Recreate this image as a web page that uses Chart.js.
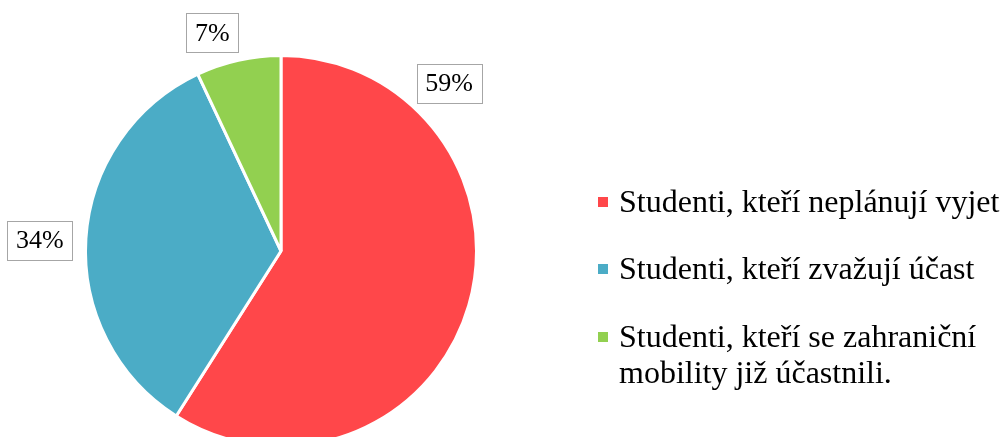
<!DOCTYPE html>
<html>
<head>
<meta charset="utf-8">
<script src="https://cdn.jsdelivr.net/npm/chart.js@4"></script>
<style>
  html, body { margin: 0; padding: 0; background: #fff; }
  #wrap { width: 1004px; height: 437px; overflow: hidden; position: relative; }
  #pie { position: absolute; left: 0; top: 0; }
</style>
</head>
<body>
<div id="wrap">
  <canvas id="pie" width="1004" height="470"></canvas>
</div>
<script>
// Data
const labels = [
    "Studenti, kteří neplánují vyjet",
    "Studenti, kteří zvažují účast",
    "Studenti, kteří se zahraniční mobility již účastnili."
];
const values = [59, 34, 7];
const colors = ['#FF474A', '#4BACC6', '#92D050'];

// Legend lines (how the long label wraps)
const legendLines = [
    ["Studenti, kteří neplánují vyjet"],
    ["Studenti, kteří zvažují účast"],
    ["Studenti, kteří se zahraniční", "mobility již účastnili."]
];

// where the % boxes sit: angle from top (deg, clockwise), distance as radius factor
const labelPlace = [
    { angle: 45, dist: 1.215 },
    { angle: 272.5, dist: 1.235 },
    { angle: 342.5, dist: 1.17 }
];

const FONT = '"Liberation Serif", "Times New Roman", serif';

const labelsPlugin = {
    id: 'pieLabels',
    afterDraw(chart) {
        const ctx = chart.ctx;
        const meta = chart.getDatasetMeta(0);
        const total = values.reduce((a, b) => a + b, 0);

        ctx.save();
        ctx.font = '26px ' + FONT;
        ctx.textAlign = 'center';
        ctx.textBaseline = 'middle';
        meta.data.forEach((arc, i) => {
            const p = labelPlace[i];
            let a;
            if (p.angle === null) {
                a = (arc.startAngle + arc.endAngle) / 2;
            } else {
                a = p.angle * Math.PI / 180 - Math.PI / 2;
            }
            const r = arc.outerRadius * p.dist;
            const cx = arc.x + Math.cos(a) * r;
            const cy = arc.y + Math.sin(a) * r;
            const txt = Math.round(values[i] / total * 100) + '%';
            const w = ctx.measureText(txt).width + 17;
            const h = 39;
            ctx.fillStyle = '#fff';
            ctx.fillRect(cx - w / 2, cy - h / 2, w, h);
            ctx.strokeStyle = '#a6a6a6';
            ctx.lineWidth = 1;
            ctx.strokeRect(Math.round(cx - w / 2) + 0.5, Math.round(cy - h / 2) + 0.5, Math.round(w), h);
            ctx.fillStyle = '#000';
            ctx.fillText(txt, cx, cy + 1);
        });

        // legend on the right
        ctx.textAlign = 'left';
        ctx.textBaseline = 'alphabetic';
        ctx.font = '32px ' + FONT;
        const baselines = [212, 279, 347];
        legendLines.forEach((lines, i) => {
            ctx.fillStyle = colors[i];
            ctx.fillRect(598, baselines[i] - 15, 10, 10);
            ctx.fillStyle = '#000';
            lines.forEach((ln, j) => {
                ctx.fillText(ln, 619, baselines[i] + j * 36);
            });
        });
        ctx.restore();
    }
};

const ctx = document.getElementById('pie').getContext('2d');
new Chart(ctx, {
    type: 'pie',
    data: {
        labels: labels,
        datasets: [{
            data: values,
            backgroundColor: colors,
            borderColor: '#ffffff',
            borderWidth: 3
        }]
    },
    options: {
        responsive: false,
        animation: false,
        layout: {
            padding: { left: 84, right: 526, top: 54, bottom: 22 }
        },
        plugins: {
            legend: { display: false },
            tooltip: { enabled: false }
        }
    },
    plugins: [labelsPlugin]
});
</script>
</body>
</html>
